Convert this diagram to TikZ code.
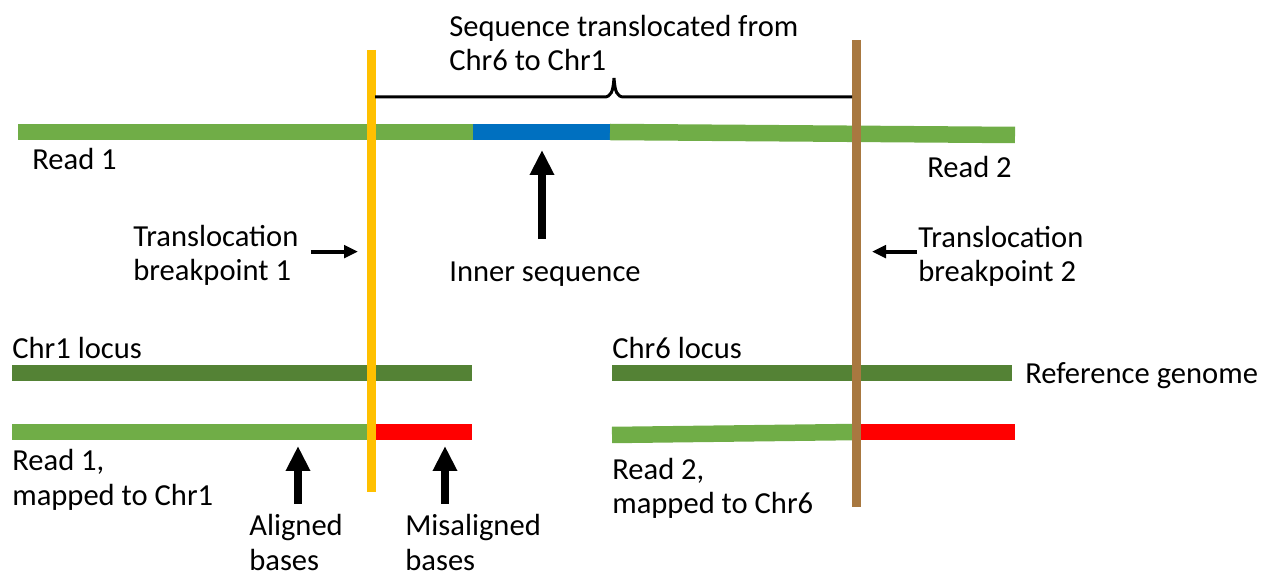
\documentclass[tikz,border=0pt]{standalone}
\usepackage{fontspec}
\setmainfont{Carlito}
\usepackage{tikz}
\usetikzlibrary{positioning}
\usetikzlibrary{arrows.meta}

\definecolor{readgreen}{RGB}{112,173,71}
\definecolor{refgreen}{RGB}{84,130,53}
\definecolor{innerblue}{RGB}{0,112,192}
\definecolor{bpyellow}{RGB}{255,192,0}
\definecolor{bpbrown}{RGB}{168,120,64}

\begin{document}
\begin{tikzpicture}[x=0.02cm,y=-0.02cm,
  bar/.style={line width=0.33cm},
  vbar/.style={line width=0.18cm},
  lbl/.style={inner sep=0pt,align=left,font=\fontsize{17.4}{19.6}\selectfont},
  bigarrow/.style={line width=0.16cm,-{Triangle[width=0.46cm,length=0.5cm]}},
  smallarrow/.style={line width=0.08cm,-{Triangle[width=0.25cm,length=0.28cm]}}]

\useasboundingbox (0,0) rectangle (1275,577);

% reads spanning the breakpoints
\draw[bar,readgreen] (18,132) -- (474,132);
\draw[bar,innerblue] (473,132) -- (611,132);
\draw[bar,readgreen] (610,132) -- (1015,135);

% reference loci
\draw[bar,refgreen] (12,373) -- (472,373);
\draw[bar,refgreen] (612,373) -- (1012,373);

% reads mapped back to the loci
\draw[bar,readgreen] (12,432) -- (371,432);
\draw[bar,red] (371,432) -- (472,432);
\draw[bar,readgreen] (612,435) -- (856,432);
\draw[bar,red] (856,432) -- (1015,432);

% breakpoints
\draw[vbar,bpyellow] (371,50) coordinate (bp1 top) -- (371,492) coordinate (bp1 bottom);
\draw[vbar,bpbrown] (856,40) coordinate (bp2 top) -- (856,507) coordinate (bp2 bottom);

% brace over the translocated part
\draw[line width=0.06cm] (375,97) -- (604,97)
  .. controls (611,97) and (613,92) .. (614,78)
  .. controls (615,92) and (617,97) .. (624,97) -- (852,97);

% two-line labels are placed by the baseline of their last line
\node[lbl,anchor=base west] (seq) at (449,71) {Sequence translocated from\\Chr6 to Chr1};
\node[lbl,anchor=base west] (read1) at (32,170) {Read 1};
\node[lbl,anchor=base west] (read2) at (927,178) {Read 2};
\node[lbl,anchor=base west] (bp1) at (133,281) {Translocation\\breakpoint 1};
\node[lbl,anchor=base west] (bp2) at (918,282) {Translocation\\breakpoint 2};
\node[lbl,anchor=base west] (inner) at (449,282) {Inner sequence};
\node[lbl,anchor=base west] (chr1) at (12,359) {Chr1 locus};
\node[lbl,anchor=base west] (chr6) at (612,359) {Chr6 locus};
\node[lbl,anchor=base west] (refgen) at (1025,384) {Reference genome};
\node[lbl,anchor=base west] (map1) at (12,505) {Read 1,\\mapped to Chr1};
\node[lbl,anchor=base west] (map2) at (612,514) {Read 2,\\mapped to Chr6};
\node[lbl,anchor=base west] (aligned) at (249,570) {Aligned\\bases};
\node[lbl,anchor=base west] (misaligned) at (405,570) {Misaligned\\bases};

\coordinate (inner tip) at (542,150);
\coordinate (aligned tip) at (298,446);
\coordinate (misaligned tip) at (445,446);

\draw[smallarrow] ([shift={(12,-4)}]bp1.east) coordinate (bp1 tail)
  -- ([xshift=-0.26cm]bp1 top |- bp1 tail);
\draw[smallarrow] ([shift={(-1,-5)}]bp2.west) coordinate (bp2 tail)
  -- ([xshift=0.32cm]bp2 top |- bp2 tail);
\draw[bigarrow] ([yshift=0.46cm]inner tip |- inner.north) -- (inner tip);
\draw[bigarrow] ([yshift=0.2cm]aligned tip |- aligned.north) -- (aligned tip);
\draw[bigarrow] ([yshift=0.2cm]misaligned tip |- misaligned.north) -- (misaligned tip);

\end{tikzpicture}
\end{document}
